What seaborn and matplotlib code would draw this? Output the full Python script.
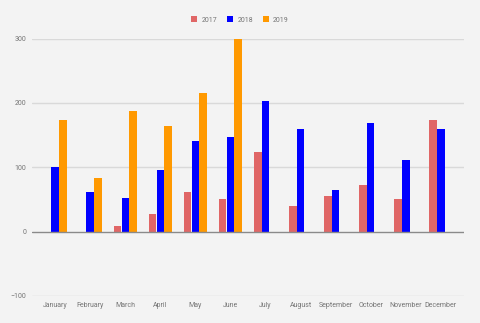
import numpy as np
import pandas as pd
import matplotlib
matplotlib.use("Agg")
import matplotlib.pyplot as plt
import seaborn as sns

months = ["January", "February", "March", "April", "May", "June", "July",
          "August", "September", "October", "November", "December"]
years = ["2017", "2018", "2019"]
v2017 = [np.nan, np.nan, 8, 27, 61, 51, 124, 40, 55, 73, 51, 173]
v2018 = [100, 62, 53, 95, 141, 147, 203, 159, 65, 168, 111, 160]
v2019 = [174, 83, 188, 164, 216, 299, np.nan, np.nan, np.nan, np.nan, np.nan, np.nan]
colors = ["#e06666", "#0000ff", "#ff9900"]

rows = []
for y, vals in zip(years, [v2017, v2018, v2019]):
    for m, v in zip(months, vals):
        rows.append({"month": m, "year": y, "value": v})
df = pd.DataFrame(rows)

sns.set_style("white")
plt.rcParams["font.family"] = ["Roboto", "DejaVu Sans"]
bg = "#f3f3f3"
fig = plt.figure(figsize=(4.8, 3.23), dpi=100, facecolor=bg)
ax = fig.add_axes([32/480, 1-296/323, 432/480, (296-38.5)/323])
ax.set_facecolor(bg)

sns.barplot(data=df, x="month", y="value", hue="year", order=months,
            hue_order=years, palette=colors, width=0.66, gap=0.03,
            saturation=1, linewidth=0, ax=ax, legend=True)

ax.set_ylim(-100, 300)
ax.set_xlim(-0.66, 11.66)
ax.set_yticks([-100, 0, 100, 200, 300])
for yv in [-100, 100, 200, 300]:
    ax.axhline(yv, color="#d9d9d9", lw=1, zorder=0)
ax.axhline(0, color="#8a8a8a", lw=1, zorder=3)
for s in ax.spines.values():
    s.set_visible(False)
ax.set_xlabel("")
ax.set_ylabel("")
ax.tick_params(axis="both", length=0, labelsize=5, labelcolor="#757575")
ax.tick_params(axis="y", pad=4)
ax.tick_params(axis="x", pad=4)

handles, labels = ax.get_legend_handles_labels()
ax.get_legend().remove()
fig.legend(handles, labels, loc="center", bbox_to_anchor=(0.5, 1-20/323),
           ncol=3, frameon=False, fontsize=5, labelcolor="#757575",
           handlelength=0.9, handleheight=0.9, handletextpad=0.6,
           columnspacing=1.4)

fig.savefig("out.png", dpi=100, facecolor=bg)
